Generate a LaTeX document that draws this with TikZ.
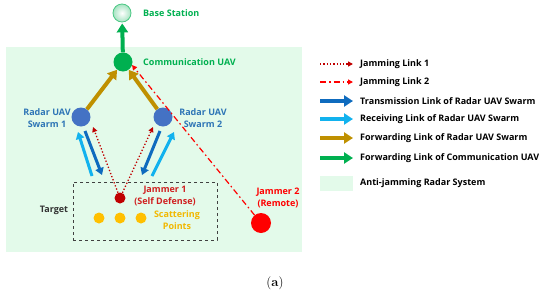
\documentclass[tikz,border=0pt]{standalone}
\usepackage{fontspec}
\setmainfont{Open Sans}
\usetikzlibrary{arrows.meta}
\definecolor{bgg}{HTML}{E3FAEA}
\definecolor{gtxt}{HTML}{00B050}
\definecolor{btxt}{HTML}{2E75B6}
\definecolor{bfill}{HTML}{4472C4}
\definecolor{dblue}{HTML}{0E6BBE}
\definecolor{lblue}{HTML}{12B2EE}
\definecolor{gold}{HTML}{BF9000}
\definecolor{dred}{HTML}{C00000}
\definecolor{jred}{HTML}{D02020}
\definecolor{rred}{HTML}{FF0000}
\definecolor{sy}{HTML}{FFC000}
\definecolor{sytxt}{HTML}{F2B800}
\begin{document}
\begin{tikzpicture}[x=1pt,y=-1pt,
  lbl/.style={font=\bfseries\fontsize{9}{12}\selectfont,inner sep=0pt,align=center},
  circ/.style={circle,inner sep=0pt,minimum size=#1},
  fat/.style={line width=#1},
  bigtip/.style={-{Triangle[length=9pt,width=11pt]}},
  midtip/.style={-{Triangle[length=7pt,width=8.5pt]}},
  jam1/.style={dred,line width=1.3pt,dotted,-{Triangle[length=5pt,width=5pt]}},
  jam2/.style={rred,line width=1.2pt,dash pattern=on 6pt off 3pt on 1.5pt off 3pt,-{Triangle[length=5pt,width=5pt]}}]
\useasboundingbox (0,0) rectangle (550,295);
\fill[bgg] (6,47) rectangle (302,252);
% nodes
\node[circ=18pt,draw=gtxt!70,line width=0.8pt,shading=radial,inner color=white,outer color=gtxt!35] (bs) at (122,13) {};
\node[circ=19pt,fill=gtxt] (comm) at (123,62) {};
\node[circ=19pt,fill=bfill] (s1) at (81,117) {};
\node[circ=19pt,fill=bfill] (s2) at (163,117) {};
\node[circ=11pt,fill=dred] (j1) at (120,198) {};
\node[circ=11pt,fill=sy] (p1) at (99,218) {};
\node[circ=11pt,fill=sy] (p2) at (120,218) {};
\node[circ=11pt,fill=sy] (p3) at (141,218) {};
\node[circ=20pt,fill=rred] (j2) at (261,223) {};
\node[draw=black!75,dashed,line width=1pt,minimum width=144pt,minimum height=58pt,inner sep=0pt] (tg) at (145,211) {};
% labels
\node[lbl,text=gtxt,anchor=west] (tbs) at (143,13) {Base Station};
\node[lbl,text=gtxt,anchor=west] (tcomm) at (143,62) {Communication UAV};
\node[lbl,text=btxt] (ts1) at (47,118) {Radar UAV\\Swarm 1};
\node[lbl,text=btxt] (ts2) at (203,118) {Radar UAV\\Swarm 2};
\node[lbl,text=jred] (tj1) at (165,196) {Jammer 1\\(Self Defense)};
\node[lbl,text=sytxt] (tsp) at (177,220) {Scattering\\Points};
\node[lbl,text=black!80] (ttg) at (54,210) {Target};
\node[lbl,text=rred] (tj2) at (278,198) {Jammer 2\\(Remote)};
\node[font=\fontspec{Latin Modern Roman}\fontsize{13}{15}\selectfont,inner sep=0pt] (ta) at (275,283) {(\textbf{a})};
% coordinates
\coordinate (d1a) at (85,131); \coordinate (d1b) at (102,175);
\coordinate (l1a) at (92,176); \coordinate (l1b) at (78,132);
\coordinate (d2a) at (160,131); \coordinate (d2b) at (142,175);
\coordinate (l2a) at (152,176); \coordinate (l2b) at (174,132);
\coordinate (q1) at (93,127); \coordinate (q2) at (153,127);
\coordinate (jt) at (132,65);
% links
\draw[gtxt,fat=4pt,bigtip,shorten >=1pt] (comm) -- (bs);
\draw[gold,fat=4pt,bigtip] (s1) -- (comm);
\draw[gold,fat=4pt,bigtip] (s2) -- (comm);
\draw[dblue,fat=3pt,midtip] (d1a) -- (d1b);
\draw[lblue,fat=3pt,midtip] (l1a) -- (l1b);
\draw[dblue,fat=3pt,midtip] (d2a) -- (d2b);
\draw[lblue,fat=3pt,midtip] (l2a) -- (l2b);
\draw[jam1] (j1) -- (q1);
\draw[jam1] (j1) -- (q2);
\draw[jam2] (j2) -- (jt);
% legend
\coordinate (a1) at (320,64); \coordinate (b1) at (353,64);
\coordinate (a2) at (320,82); \coordinate (b2) at (353,82);
\coordinate (a3) at (320,101); \coordinate (b3) at (353,101);
\coordinate (a4) at (320,119); \coordinate (b4) at (353,119);
\coordinate (a5) at (320,138); \coordinate (b5) at (353,138);
\coordinate (a6) at (320,158); \coordinate (b6) at (353,158);
\draw[jam1] (a1) -- (b1);
\draw[jam2] (a2) -- (b2);
\draw[dblue,fat=4pt,bigtip] (a3) -- (b3);
\draw[lblue,fat=4pt,bigtip] (a4) -- (b4);
\draw[gold,fat=4pt,bigtip] (a5) -- (b5);
\draw[gtxt,fat=4pt,bigtip] (a6) -- (b6);
\node[fill=bgg,minimum width=33pt,minimum height=15pt,inner sep=0pt,anchor=west] (lg7) at (320,183) {};
\node[lbl,anchor=west] (t1) at (360,64) {Jamming Link 1};
\node[lbl,anchor=west] (t2) at (360,82) {Jamming Link 2};
\node[lbl,anchor=west] (t3) at (360,101) {Transmission Link of Radar UAV Swarm};
\node[lbl,anchor=west] (t4) at (360,119) {Receiving Link of Radar UAV Swarm};
\node[lbl,anchor=west] (t5) at (360,138) {Forwarding Link of Radar UAV Swarm};
\node[lbl,anchor=west] (t6) at (360,158) {Forwarding Link of Communication UAV};
\node[lbl,anchor=west] (t7) at (360,183) {Anti-jamming Radar System};
\end{tikzpicture}
\end{document}
